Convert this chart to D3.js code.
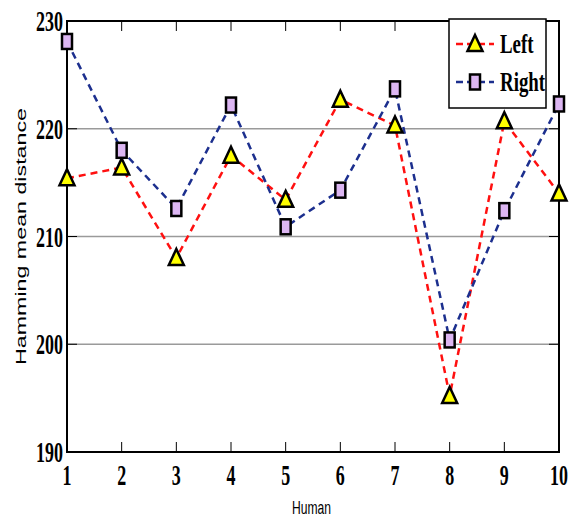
<!DOCTYPE html>
<html>
<head>
<meta charset="utf-8">
<script src="https://cdn.jsdelivr.net/npm/d3@7"></script>
<style>
  body { margin: 0; background: #fff; }
  svg { display: block; }
</style>
</head>
<body>
<div id="chart"></div>
<script>
(function() {
    // data
    const humans = [1, 2, 3, 4, 5, 6, 7, 8, 9, 10];
    const leftVals = [215.4, 216.4, 208.0, 217.5, 213.4, 222.7, 220.3, 195.2, 220.7, 214.0];
    const rightVals = [228.1, 218.0, 212.6, 222.2, 210.9, 214.3, 223.7, 200.4, 212.4, 222.3];
    const yTicks = [190, 200, 210, 220, 230];
    const seriesNames = ["Left", "Right"];

    const width = 574, height = 520;
    const margin = { top: 21, right: 15, bottom: 68, left: 67 };
    const w = width - margin.left - margin.right;
    const h = height - margin.top - margin.bottom;

    const svg = d3.select("#chart").append("svg")
        .attr("width", width)
        .attr("height", height);

    const g = svg.append("g")
        .attr("transform", `translate(${margin.left},${margin.top})`);

    const x = d3.scaleLinear().domain([1, 10]).range([0, w]);
    const y = d3.scaleLinear().domain([190, 230]).range([h, 0]);

    // grid lines
    g.append("g").selectAll("line")
        .data(yTicks.filter(t => t > 190 && t < 230))
        .enter().append("line")
        .attr("x1", 0).attr("x2", w)
        .attr("y1", d => y(d)).attr("y2", d => y(d))
        .attr("stroke", "#9a9a9a")
        .attr("stroke-width", 1.5);

    // inner ticks (matlab style)
    const tk = g.append("g").attr("stroke", "#000").attr("stroke-width", 1);
    humans.slice(1, -1).forEach(v => {
        tk.append("line").attr("x1", x(v)).attr("x2", x(v)).attr("y1", h).attr("y2", h - 10);
        tk.append("line").attr("x1", x(v)).attr("x2", x(v)).attr("y1", 0).attr("y2", 10);
    });
    yTicks.slice(1, -1).forEach(v => {
        tk.append("line").attr("x1", 0).attr("x2", 10).attr("y1", y(v)).attr("y2", y(v));
        tk.append("line").attr("x1", w).attr("x2", w - 10).attr("y1", y(v)).attr("y2", y(v));
    });

    // frame
    g.append("rect")
        .attr("width", w).attr("height", h)
        .attr("fill", "none")
        .attr("stroke", "#000")
        .attr("stroke-width", 2);

    // tick labels, condensed serif bold
    const tickFont = "'Liberation Serif', 'DejaVu Serif', serif";
    humans.forEach(v => {
        g.append("text")
            .attr("transform", `translate(${x(v)},${h + 33}) scale(0.62,1)`)
            .attr("text-anchor", "middle")
            .attr("font-family", tickFont)
            .attr("font-weight", "bold")
            .attr("font-size", 29)
            .text(v);
    });
    yTicks.forEach(v => {
        g.append("text")
            .attr("transform", `translate(-4,${y(v) + 10}) scale(0.62,1)`)
            .attr("text-anchor", "end")
            .attr("font-family", tickFont)
            .attr("font-weight", "bold")
            .attr("font-size", 29)
            .text(v);
    });

    // axis titles
    svg.append("text")
        .attr("x", 292).attr("y", 514)
        .attr("font-family", "'Liberation Sans', Arial, sans-serif")
        .attr("font-size", 19)
        .attr("textLength", 39)
        .attr("lengthAdjust", "spacingAndGlyphs")
        .text("Human");
    svg.append("text")
        .attr("transform", "translate(26,365) rotate(-90)")
        .attr("font-family", "'Liberation Sans', Arial, sans-serif")
        .attr("font-size", 15)
        .attr("textLength", 257)
        .attr("lengthAdjust", "spacingAndGlyphs")
        .text("Hamming mean distance");

    const line = d3.line()
        .x((d, i) => x(humans[i]))
        .y(d => y(d));

    const series = [
        { name: seriesNames[0], vals: leftVals, color: "#ff1010", marker: "tri" },
        { name: seriesNames[1], vals: rightVals, color: "#1c2f8e", marker: "sq" }
    ];

    function drawMarker(sel, type) {
        if (type === "tri") {
            sel.append("path")
                .attr("d", "M0,-9 L7.5,7 L-7.5,7 Z")
                .attr("fill", "#ffff00")
                .attr("stroke", "#000")
                .attr("stroke-width", 2.5)
                .attr("stroke-linejoin", "miter");
        } else {
            sel.append("rect")
                .attr("x", -5).attr("y", -7.5)
                .attr("width", 10).attr("height", 15)
                .attr("fill", "#dcb6f2")
                .attr("stroke", "#000")
                .attr("stroke-width", 2.5);
        }
    }

    // lines first, then markers
    series.forEach(s => {
        g.append("path")
            .datum(s.vals)
            .attr("d", line)
            .attr("fill", "none")
            .attr("stroke", s.color)
            .attr("stroke-width", 2.5)
            .attr("stroke-dasharray", "7,5");
    });
    series.forEach(s => {
        g.append("g").selectAll("g")
            .data(s.vals)
            .enter().append("g")
            .attr("transform", (d, i) => `translate(${x(humans[i])},${y(d)})`)
            .each(function() { drawMarker(d3.select(this), s.marker); });
    });

    // legend
    const lg = svg.append("g").attr("transform", "translate(449,19)");
    lg.append("rect")
        .attr("width", 97).attr("height", 89)
        .attr("fill", "#fff")
        .attr("stroke", "#000")
        .attr("stroke-width", 1.5);
    series.forEach((s, i) => {
        const cy = 25 + i * 38;
        lg.append("line")
            .attr("x1", 7).attr("x2", 45)
            .attr("y1", cy).attr("y2", cy)
            .attr("stroke", s.color)
            .attr("stroke-width", 2.5)
            .attr("stroke-dasharray", "7,4");
        const m = lg.append("g").attr("transform", `translate(26,${cy})`);
        drawMarker(m, s.marker);
        lg.append("text")
            .attr("transform", `translate(51,${cy + 9}) scale(0.7,1)`)
            .attr("font-family", tickFont)
            .attr("font-weight", "bold")
            .attr("font-size", 27)
            .text(s.name);
    });
})();
</script>
</body>
</html>
